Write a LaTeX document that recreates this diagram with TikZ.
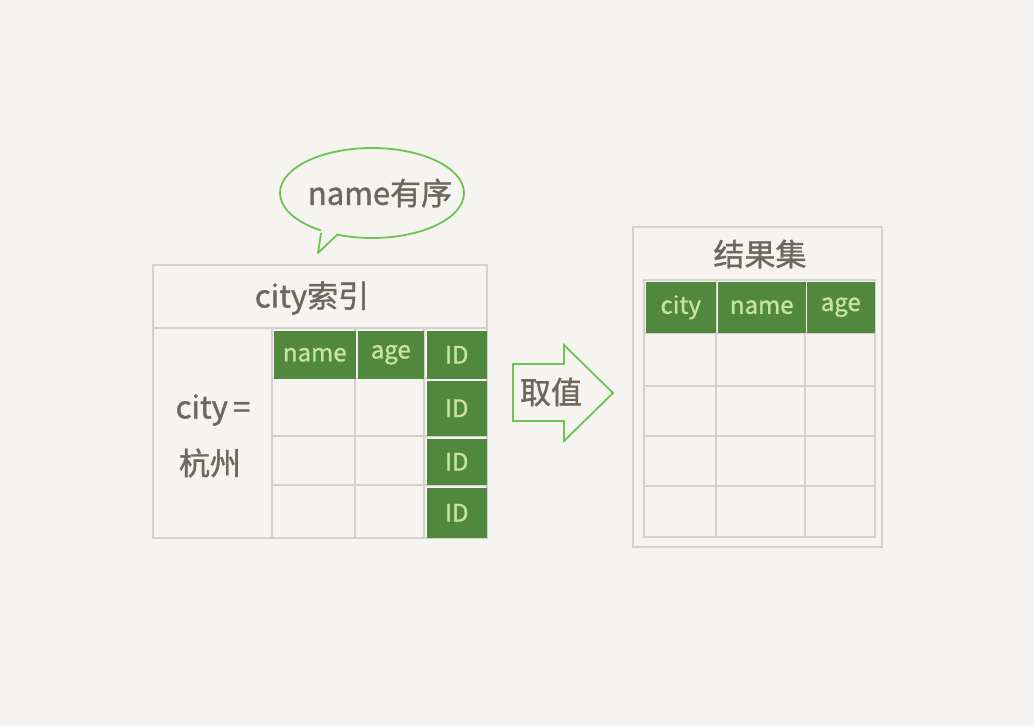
\documentclass[tikz,border=0pt]{standalone}
\usepackage{fontspec}
\newfontfamily\cjk[FakeBold=1.2]{Noto Sans CJK SC}
\definecolor{bgpaper}{RGB}{245,244,240}
\definecolor{gridgrey}{RGB}{210,209,205}
\definecolor{cellgreen}{RGB}{82,135,62}
\definecolor{lightgreen}{RGB}{196,228,160}
\definecolor{inkgrey}{RGB}{108,104,94}
\definecolor{linegreen}{RGB}{110,196,82}
\tikzset{every picture/.style={line width=1.5pt}}
\tikzset{
  gridline/.style={draw=gridgrey},
  greencell/.style={fill=cellgreen, draw=none, inner sep=0pt, anchor=north west, text=lightgreen, font=\cjk\fontsize{24}{24}\selectfont},
  inktext/.style={inner sep=0.75pt, text=inkgrey, font=\cjk\fontsize{31}{34}\selectfont, align=center},
  outlinegreen/.style={draw=linegreen, line width=1.8pt},
}

\begin{document}
\begin{tikzpicture}[x=1pt,y=1pt,yscale=-1]
			\fill [bgpaper] (0,0) rectangle (1034,726);
			\useasboundingbox (0,0) rectangle (1034,726);
			
			%Shape: Ellipse [id:bubble] 
			\draw [outlinegreen, fill=bgpaper] (372,193) ellipse (92 and 45);
			%Shape: Triangle [id:bubbletail] 
			\fill [bgpaper] (321,232) -- (318,253) -- (338,233) -- (338,228) -- (321,228) -- cycle;
			\draw [outlinegreen, line join=round] (321,233) -- (318,253) -- (338,234);
			
			%Shape: Rectangle [id:citybox] 
			\draw [gridline] (153,265) rectangle (487,538);
			%Straight Lines [id:cityhead] 
			\draw [gridline] (153,328) -- (487,328);
			\draw [gridline] (272,328) -- (272,538);
			%Straight Lines [id:citygrid] 
			\draw [gridline] (355,328) -- (355,538);
			\draw [gridline] (424,328) -- (424,538);
			\foreach \y in {378,436,485} {
				\draw [gridline] (272,\y) -- (487,\y);
			}
			
			%Shape: Rectangle [id:resultbox] 
			\draw [gridline] (633,227) rectangle (882,547);
			%Straight Lines [id:resultgrid] 
			\draw [gridline] (644,280) rectangle (875,537);
			\foreach \x in {716,805} {
				\draw [gridline] (\x,280) -- (\x,537);
			}
			\foreach \y in {333,386,436,486} {
				\draw [gridline] (644,\y) -- (875,\y);
			}
			
			%Shape: Arrow [id:takearrow] 
			\draw [outlinegreen, line join=miter, fill=bgpaper] (513,364) -- (564,364) -- (564,345) -- (613,393) -- (564,441) -- (564,421) -- (513,421) -- cycle;
			
			% Green Cells
			\node [greencell, minimum width=82, minimum height=48] (iname) at (273,330) {name};
			\node [greencell, minimum width=66, minimum height=48] (iage) at (357,330) {age};
			\node [greencell, minimum width=60, minimum height=48] (idone) at (426,330) {ID};
			\node [greencell, minimum width=60, minimum height=55] (idtwo) at (426,380) {ID};
			\node [greencell, minimum width=60, minimum height=46] (idthree) at (426,438) {ID};
			\node [greencell, minimum width=60, minimum height=50] (idfour) at (426,487) {ID};
			\node [greencell, minimum width=70, minimum height=51] (rcity) at (645,281) {city};
			\node [greencell, minimum width=88, minimum height=51] (rname) at (717,281) {name};
			\node [greencell, minimum width=68, minimum height=51] (rage) at (806,281) {age};
			
			% Text Node
			\node [inktext] (sorted) at (380,193) {name有序};
			% Text Node
			\node [inktext] (cityindex) at (312,298) {city索引};
			% Text Node
			\node [inktext] (cityeq) at (213,410) {city\,=};
			% Text Node
			\node [inktext] (hangzhou) at (210,463) {杭州};
			% Text Node
			\node [inktext] (fetch) at (551,392) {取值};
			% Text Node
			\node [inktext] (resultset) at (760,254) {结果集};
			
		\end{tikzpicture}
\end{document}
